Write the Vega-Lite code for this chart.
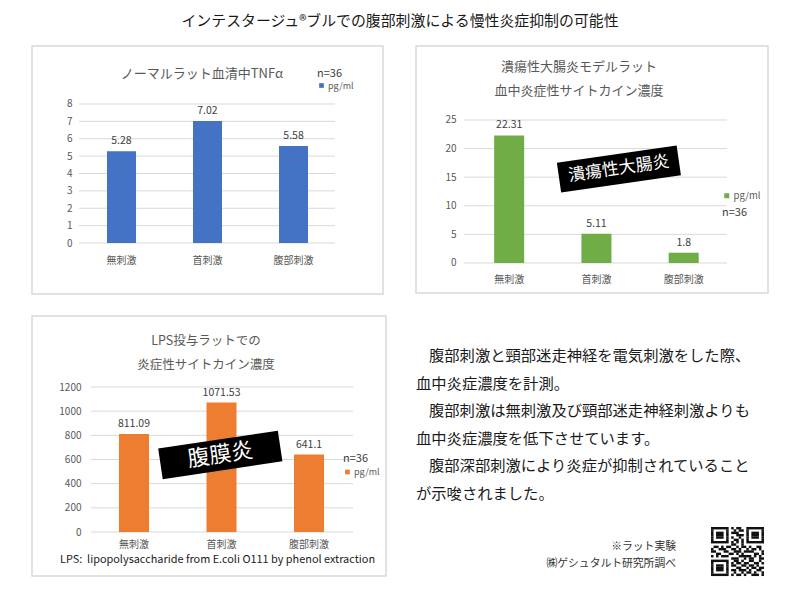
{
  "$schema": "https://vega.github.io/schema/vega-lite/v6.json",
  "background": "white",
  "padding": {"left": 31, "top": 14, "right": 0, "bottom": 0},
  "title": {"text": "インテスタージュ®ブルでの腹部刺激による慢性炎症抑制の可能性", "fontSize": 14.9, "fontWeight": "normal", "color": "#1a1a1a", "offset": 16, "anchor": "middle"},
  "config": {
    "font": "Noto Sans CJK JP",
    "view": {"stroke": null},
    "axis": {"labelFont": "Noto Sans CJK JP", "titleFont": "Noto Sans CJK JP"},
    "legend": {"labelFont": "Noto Sans CJK JP", "titleFont": "Noto Sans CJK JP"},
    "title": {"font": "Noto Sans CJK JP"}
  },
  "datasets": {
    "tnf": [
      {"group": "無刺激", "value": 5.28, "unit": "pg/ml"},
      {"group": "首刺激", "value": 7.02, "unit": "pg/ml"},
      {"group": "腹部刺激", "value": 5.58, "unit": "pg/ml"}
    ],
    "colitis": [
      {"group": "無刺激", "value": 22.31, "unit": "pg/ml"},
      {"group": "首刺激", "value": 5.11, "unit": "pg/ml"},
      {"group": "腹部刺激", "value": 1.8, "unit": "pg/ml"}
    ],
    "lps": [
      {"group": "無刺激", "value": 811.09, "unit": "pg/ml"},
      {"group": "首刺激", "value": 1071.53, "unit": "pg/ml"},
      {"group": "腹部刺激", "value": 641.1, "unit": "pg/ml"}
    ],
    "grid1": [{"tick": 0}, {"tick": 1}, {"tick": 2}, {"tick": 3}, {"tick": 4}, {"tick": 5}, {"tick": 6}, {"tick": 7}, {"tick": 8}],
    "grid2": [{"tick": 0}, {"tick": 5}, {"tick": 10}, {"tick": 15}, {"tick": 20}, {"tick": 25}],
    "grid3": [{"tick": 0}, {"tick": 200}, {"tick": 400}, {"tick": 600}, {"tick": 800}, {"tick": 1000}, {"tick": 1200}],
    "body": [
      {"line": 1, "indent": 1, "text": "腹部刺激と頸部迷走神経を電気刺激をした際、"},
      {"line": 2, "indent": 0, "text": "血中炎症濃度を計測。"},
      {"line": 3, "indent": 1, "text": "腹部刺激は無刺激及び頸部迷走神経刺激よりも"},
      {"line": 4, "indent": 0, "text": "血中炎症濃度を低下させています。"},
      {"line": 5, "indent": 1, "text": "腹部深部刺激により炎症が抑制されていること"},
      {"line": 6, "indent": 0, "text": "が示唆されました。"}
    ],
    "notes": [
      {"row": 1, "note": "※ラット実験"},
      {"row": 2, "note": "㈱ゲシュタルト研究所調べ"}
    ],
    "qr": [
      {"r":0,"a":0,"b":7},{"r":0,"a":8,"b":9},{"r":0,"a":10,"b":12},{"r":0,"a":14,"b":21},
      {"r":1,"a":0,"b":1},{"r":1,"a":6,"b":7},{"r":1,"a":9,"b":10},{"r":1,"a":11,"b":13},{"r":1,"a":14,"b":15},{"r":1,"a":20,"b":21},
      {"r":2,"a":0,"b":1},{"r":2,"a":2,"b":5},{"r":2,"a":6,"b":7},{"r":2,"a":8,"b":11},{"r":2,"a":14,"b":15},{"r":2,"a":16,"b":19},{"r":2,"a":20,"b":21},
      {"r":3,"a":0,"b":1},{"r":3,"a":2,"b":5},{"r":3,"a":6,"b":7},{"r":3,"a":10,"b":13},{"r":3,"a":14,"b":15},{"r":3,"a":16,"b":19},{"r":3,"a":20,"b":21},
      {"r":4,"a":0,"b":1},{"r":4,"a":2,"b":5},{"r":4,"a":6,"b":7},{"r":4,"a":8,"b":9},{"r":4,"a":11,"b":12},{"r":4,"a":14,"b":15},{"r":4,"a":16,"b":19},{"r":4,"a":20,"b":21},
      {"r":5,"a":0,"b":1},{"r":5,"a":6,"b":7},{"r":5,"a":9,"b":11},{"r":5,"a":12,"b":13},{"r":5,"a":14,"b":15},{"r":5,"a":20,"b":21},
      {"r":6,"a":0,"b":7},{"r":6,"a":8,"b":9},{"r":6,"a":10,"b":11},{"r":6,"a":12,"b":13},{"r":6,"a":14,"b":21},
      {"r":7,"a":8,"b":10},{"r":7,"a":12,"b":13},
      {"r":8,"a":1,"b":3},{"r":8,"a":4,"b":5},{"r":8,"a":6,"b":8},{"r":8,"a":10,"b":11},{"r":8,"a":12,"b":14},{"r":8,"a":15,"b":16},{"r":8,"a":18,"b":20},
      {"r":9,"a":0,"b":1},{"r":9,"a":3,"b":6},{"r":9,"a":8,"b":10},{"r":9,"a":11,"b":12},{"r":9,"a":14,"b":15},{"r":9,"a":16,"b":18},{"r":9,"a":19,"b":20},
      {"r":10,"a":0,"b":2},{"r":10,"a":5,"b":7},{"r":10,"a":9,"b":12},{"r":10,"a":13,"b":17},{"r":10,"a":20,"b":21},
      {"r":11,"a":2,"b":4},{"r":11,"a":7,"b":9},{"r":11,"a":10,"b":11},{"r":11,"a":12,"b":13},{"r":11,"a":17,"b":19},{"r":11,"a":20,"b":21},
      {"r":12,"a":0,"b":1},{"r":12,"a":2,"b":3},{"r":12,"a":4,"b":7},{"r":12,"a":11,"b":16},{"r":12,"a":17,"b":18},{"r":12,"a":19,"b":20},
      {"r":13,"a":8,"b":11},{"r":13,"a":13,"b":14},{"r":13,"a":15,"b":17},{"r":13,"a":19,"b":21},
      {"r":14,"a":0,"b":7},{"r":14,"a":9,"b":11},{"r":14,"a":12,"b":13},{"r":14,"a":15,"b":17},{"r":14,"a":19,"b":20},
      {"r":15,"a":0,"b":1},{"r":15,"a":6,"b":7},{"r":15,"a":8,"b":9},{"r":15,"a":10,"b":12},{"r":15,"a":13,"b":15},{"r":15,"a":17,"b":19},{"r":15,"a":20,"b":21},
      {"r":16,"a":0,"b":1},{"r":16,"a":2,"b":5},{"r":16,"a":6,"b":7},{"r":16,"a":8,"b":10},{"r":16,"a":12,"b":14},{"r":16,"a":15,"b":17},{"r":16,"a":18,"b":19},
      {"r":17,"a":0,"b":1},{"r":17,"a":2,"b":5},{"r":17,"a":6,"b":7},{"r":17,"a":10,"b":12},{"r":17,"a":14,"b":15},{"r":17,"a":16,"b":18},{"r":17,"a":19,"b":21},
      {"r":18,"a":0,"b":1},{"r":18,"a":2,"b":5},{"r":18,"a":6,"b":7},{"r":18,"a":8,"b":10},{"r":18,"a":11,"b":14},{"r":18,"a":15,"b":16},{"r":18,"a":18,"b":20},
      {"r":19,"a":0,"b":1},{"r":19,"a":6,"b":7},{"r":19,"a":9,"b":10},{"r":19,"a":12,"b":13},{"r":19,"a":14,"b":16},{"r":19,"a":17,"b":18},{"r":19,"a":20,"b":21},
      {"r":20,"a":0,"b":7},{"r":20,"a":8,"b":9},{"r":20,"a":10,"b":12},{"r":20,"a":13,"b":14},{"r":20,"a":16,"b":19},{"r":20,"a":20,"b":21}
    ]
  },
  "spacing": 28,
  "resolve": {"scale": {"color": "independent"}, "legend": {"color": "independent"}},
  "hconcat": [
    {
      "spacing": 20,
      "resolve": {"scale": {"color": "independent"}, "legend": {"color": "independent"}},
      "vconcat": [
        {
          "width": 351, "height": 248,
          "view": {"stroke": "#d9d9d9", "strokeWidth": 1.5},
          "title": {"text": "ノーマルラット血清中TNFα", "fontSize": 13, "fontWeight": "normal", "color": "#595959", "offset": -34.5, "dx": -5.5},
          "layer": [
            {
              "data": {"name": "grid1"},
              "mark": {"type": "rule", "color": "#d9d9d9", "strokeWidth": 1},
              "encoding": {
                "x": {"datum": 0.1339, "type": "quantitative", "scale": {"domain": [0, 1]}, "axis": null},
                "x2": {"datum": 0.8632},
                "y": {"field": "tick", "type": "quantitative", "scale": {"domain": [-2.935, 11.338], "nice": false, "zero": false}, "axis": null}
              }
            },
            {
              "data": {"name": "tnf"},
              "encoding": {
                "x": {"field": "group", "type": "nominal", "sort": null, "scale": {"paddingInner": 0.663, "paddingOuter": 0.872, "align": 0.5},
                  "axis": {"title": null, "offset": -51, "domain": false, "ticks": false, "tickSize": 0, "labelPadding": 12, "labelFontSize": 10, "labelColor": "#595959", "labelAngle": 0, "grid": false}},
                "y": {"field": "value", "type": "quantitative", "scale": {"domain": [-2.935, 11.338], "nice": false, "zero": false},
                  "axis": {"title": null, "offset": -47, "values": [0,1,2,3,4,5,6,7,8], "format": "d", "grid": false, "domain": false, "ticks": false, "tickSize": 0, "labelPadding": 7, "labelFontSize": 10, "labelColor": "#595959"}}
              },
              "layer": [
                {
                  "mark": {"type": "bar"},
                  "encoding": {
                    "y2": {"datum": 0},
                    "color": {"field": "unit", "type": "nominal", "scale": {"range": ["#4472c4"]},
                      "legend": {"orient": "none", "legendX": 285, "legendY": 22, "title": "n=36", "titleFontSize": 11, "titleFontWeight": "normal", "titleColor": "#404040", "titlePadding": 2, "labelFontSize": 9, "labelColor": "#595959", "symbolType": "square", "symbolSize": 22, "symbolStrokeWidth": 0, "labelOffset": 2, "padding": 0}}
                  }
                },
                {
                  "mark": {"type": "text", "baseline": "bottom", "dy": -5, "fontSize": 10.5, "color": "#404040"},
                  "encoding": {"text": {"field": "value", "type": "nominal"}}
                }
              ]
            }
          ],
          "resolve": {"scale": {"x": "independent", "y": "independent"}}
        },
        {
          "width": 354, "height": 260,
          "view": {"stroke": "#d9d9d9", "strokeWidth": 1.5},
          "title": {"text": ["LPS投与ラットでの", "炎症性サイトカイン濃度"], "fontSize": 12.5, "lineHeight": 24, "fontWeight": "normal", "color": "#595959", "offset": -55, "dx": -3},
          "layer": [
            {
              "data": {"name": "grid3"},
              "mark": {"type": "rule", "color": "#d9d9d9", "strokeWidth": 1},
              "encoding": {
                "x": {"datum": 0.1667, "type": "quantitative", "scale": {"domain": [0, 1]}, "axis": null},
                "x2": {"datum": 0.9068},
                "y": {"field": "tick", "type": "quantitative", "scale": {"domain": [-364.1, 1787.6], "nice": false, "zero": false}, "axis": null}
              }
            },
            {
              "data": {"name": "lps"},
              "encoding": {
                "x": {"field": "group", "type": "nominal", "sort": null, "scale": {"paddingInner": 0.657, "paddingOuter": 0.851, "align": 0.584},
                  "axis": {"title": "LPS:\u00a0\u00a0lipopolysaccharide from E.coli O111 by phenol extraction", "titleX": 185, "titleFontSize": 10.9, "titleFontWeight": "normal", "titleColor": "#1a1a1a", "titlePadding": 4, "offset": -44, "domain": false, "ticks": false, "tickSize": 0, "labelPadding": 7, "labelFontSize": 10, "labelColor": "#595959", "labelAngle": 0, "grid": false}},
                "y": {"field": "value", "type": "quantitative", "scale": {"domain": [-364.1, 1787.6], "nice": false, "zero": false},
                  "axis": {"title": null, "offset": -59, "values": [0,200,400,600,800,1000,1200], "format": "d", "grid": false, "domain": false, "ticks": false, "tickSize": 0, "labelPadding": 10, "labelFontSize": 10, "labelColor": "#595959"}}
              },
              "layer": [
                {
                  "mark": {"type": "bar"},
                  "encoding": {
                    "y2": {"datum": 0},
                    "color": {"field": "unit", "type": "nominal", "scale": {"range": ["#ed7d31"]},
                      "legend": {"orient": "none", "legendX": 311, "legendY": 136.5, "title": "n=36", "titleFontSize": 11, "titleFontWeight": "normal", "titleColor": "#404040", "titlePadding": 4, "labelFontSize": 9, "labelColor": "#595959", "symbolType": "square", "symbolSize": 22, "symbolStrokeWidth": 0, "labelOffset": 2, "padding": 0}}
                  }
                },
                {
                  "mark": {"type": "text", "baseline": "bottom", "dy": -5, "fontSize": 10.5, "color": "#404040"},
                  "encoding": {"text": {"field": "value", "type": "nominal"}}
                }
              ]
            },
            {
              "data": {"values": [{"label": "腹膜炎"}]},
              "encoding": {
                "x": {"datum": 0.5319, "type": "quantitative", "scale": {"domain": [0, 1]}, "axis": null},
                "y": {"datum": 0.4658, "type": "quantitative", "scale": {"domain": [0, 1]}, "axis": null}
              },
              "layer": [
                {"mark": {"type": "point", "shape": "M-1,-0.256L1,-0.256L1,0.256L-1,0.256Z", "filled": true, "color": "black", "opacity": 1, "size": 14641, "angle": -8.5, "strokeWidth": 0}},
                {"mark": {"type": "text", "angle": -8.5, "color": "white", "fontSize": 22, "baseline": "middle", "align": "center"}, "encoding": {"text": {"field": "label"}}}
              ]
            }
          ],
          "resolve": {"scale": {"x": "independent", "y": "independent"}}
        }
      ]
    },
    {
      "spacing": 47,
      "resolve": {"scale": {"color": "independent"}, "legend": {"color": "independent"}},
      "vconcat": [
        {
          "width": 352, "height": 247,
          "view": {"stroke": "#d9d9d9", "strokeWidth": 1.5},
          "title": {"text": ["潰瘍性大腸炎モデルラット", "血中炎症性サイトカイン濃度"], "fontSize": 13, "lineHeight": 24, "fontWeight": "normal", "color": "#595959", "offset": -52, "dx": -13},
          "layer": [
            {
              "data": {"name": "grid2"},
              "mark": {"type": "rule", "color": "#d9d9d9", "strokeWidth": 1},
              "encoding": {
                "x": {"datum": 0.1364, "type": "quantitative", "scale": {"domain": [0, 1]}, "axis": null},
                "x2": {"datum": 0.8835},
                "y": {"field": "tick", "type": "quantitative", "scale": {"domain": [-5.245, 37.937], "nice": false, "zero": false}, "axis": null}
              }
            },
            {
              "data": {"name": "colitis"},
              "encoding": {
                "x": {"field": "group", "type": "nominal", "sort": null, "scale": {"paddingInner": 0.656, "paddingOuter": 0.845, "align": 0.53},
                  "axis": {"title": null, "offset": -30, "domain": false, "ticks": false, "tickSize": 0, "labelPadding": 11, "labelFontSize": 10, "labelColor": "#595959", "labelAngle": 0, "grid": false}},
                "y": {"field": "value", "type": "quantitative", "scale": {"domain": [-5.245, 37.937], "nice": false, "zero": false},
                  "axis": {"title": null, "offset": -48, "values": [0,5,10,15,20,25], "format": "d", "grid": false, "domain": false, "ticks": false, "tickSize": 0, "labelPadding": 8, "labelFontSize": 10, "labelColor": "#595959"}}
              },
              "layer": [
                {
                  "mark": {"type": "bar"},
                  "encoding": {
                    "y2": {"datum": 0},
                    "color": {"field": "unit", "type": "nominal", "scale": {"range": ["#70ad47"]},
                      "legend": {"orient": "none", "legendX": 306, "legendY": 145, "title": "n=36", "titleOrient": "bottom", "titleFontSize": 11, "titleFontWeight": "normal", "titleColor": "#404040", "titlePadding": 7, "labelFontSize": 9.5, "labelColor": "#595959", "symbolType": "square", "symbolSize": 25, "symbolStrokeWidth": 0, "labelOffset": 2, "padding": 0}}
                  }
                },
                {
                  "mark": {"type": "text", "baseline": "bottom", "dy": -5, "fontSize": 10.5, "color": "#404040"},
                  "encoding": {"text": {"field": "value", "type": "nominal"}}
                }
              ]
            },
            {
              "data": {"values": [{"label": "潰瘍性大腸炎"}]},
              "encoding": {
                "x": {"datum": 0.5764, "type": "quantitative", "scale": {"domain": [0, 1]}, "axis": null},
                "y": {"datum": 0.5024, "type": "quantitative", "scale": {"domain": [0, 1]}, "axis": null}
              },
              "layer": [
                {"mark": {"type": "point", "shape": "M-1,-0.248L1,-0.248L1,0.248L-1,0.248Z", "filled": true, "color": "black", "opacity": 1, "size": 14641, "angle": -8.2, "strokeWidth": 0}},
                {"mark": {"type": "text", "angle": -8.2, "color": "white", "fontSize": 17, "baseline": "middle", "align": "center"}, "encoding": {"text": {"field": "label"}}}
              ]
            }
          ],
          "resolve": {"scale": {"x": "independent", "y": "independent"}}
        },
        {
          "width": 350, "height": 235,
          "view": {"stroke": null},
          "layer": [
            {
              "data": {"name": "body"},
              "mark": {"type": "text", "align": "left", "baseline": "middle", "fontSize": 15.3, "color": "#1a1a1a"},
              "encoding": {
                "x": {"field": "indent", "type": "quantitative", "scale": {"domain": [0, 26.92], "nice": false, "zero": false}, "axis": null},
                "y": {"field": "line", "type": "quantitative", "scale": {"domain": [0.4565, 8.971], "reverse": true, "nice": false, "zero": false}, "axis": null},
                "text": {"field": "text"}
              }
            },
            {
              "data": {"name": "notes"},
              "mark": {"type": "text", "align": "right", "baseline": "middle", "fontSize": 10.8, "color": "#333333"},
              "encoding": {
                "x": {"datum": 0.7429, "type": "quantitative", "scale": {"domain": [0, 1]}, "axis": null},
                "y": {"field": "row", "type": "quantitative", "scale": {"domain": [-11.118, 2.706], "reverse": true, "nice": false, "zero": false}, "axis": null},
                "text": {"field": "note"}
              }
            },
            {
              "data": {"name": "qr"},
              "mark": {"type": "rect", "color": "#111111", "height": 2.45},
              "encoding": {
                "x": {"field": "a", "type": "quantitative", "scale": {"domain": [-116.9, 21.8], "nice": false, "zero": false}, "axis": null},
                "x2": {"field": "b"},
                "y": {"field": "r", "type": "quantitative", "scale": {"domain": [-80.3, 20.5], "reverse": true, "nice": false, "zero": false}, "axis": null}
              }
            }
          ],
          "resolve": {"scale": {"x": "independent", "y": "independent"}}
        }
      ]
    }
  ]
}
